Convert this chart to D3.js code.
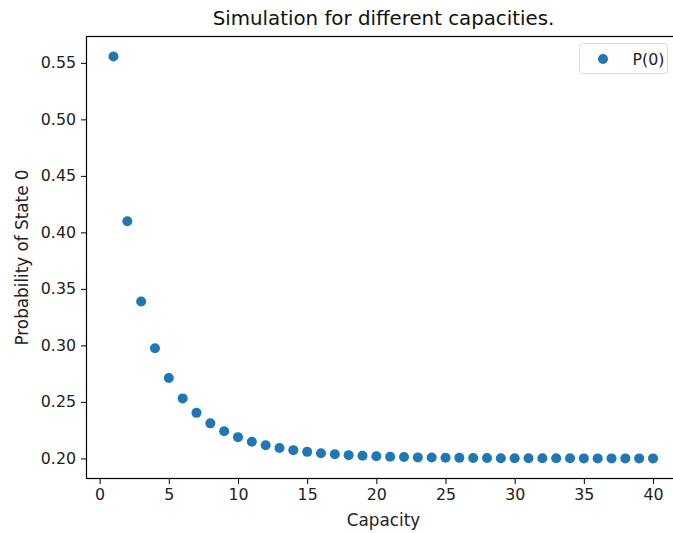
<!DOCTYPE html>
<html>
<head>
<meta charset="utf-8">
<script src="https://cdn.jsdelivr.net/npm/d3@7"></script>
<style>
  body { margin: 0; background: #fff; }
  svg { display: block; font-family: "DejaVu Sans", sans-serif; }
</style>
</head>
<body>
<div id="chart"></div>
<script>
// capacities and P(0)
const capacities = d3.range(1, 41);
const probState0 = [
  0.5556, 0.4098, 0.3388, 0.2975, 0.2711, 0.2531, 0.2403, 0.2310, 0.2241, 0.2188,
  0.2148, 0.2116, 0.2092, 0.2073, 0.2058, 0.2046, 0.2037, 0.2029, 0.2023, 0.2019,
  0.2015, 0.2012, 0.2009, 0.2008, 0.2006, 0.2005, 0.2004, 0.2003, 0.2002, 0.2002,
  0.2001, 0.2001, 0.2001, 0.2001, 0.2000, 0.2000, 0.2000, 0.2000, 0.2000, 0.2000
];
const xTicks = [0, 5, 10, 15, 20, 25, 30, 35, 40];
const yTicks = [0.20, 0.25, 0.30, 0.35, 0.40, 0.45, 0.50, 0.55];

const W = 673, H = 533;
const margin = {top: 36.5, right: -7, bottom: 54.5, left: 86.5};
const width = W - margin.left - margin.right,
      height = H - margin.top - margin.bottom;

const svg = d3.select("#chart")
    .append("svg")
    .attr("width", W)
    .attr("height", H);

const g = svg.append("g")
    .attr("transform", "translate(" + margin.left + "," + margin.top + ")");

const x = d3.scaleLinear()
    .domain([-0.95, 41.95])
    .range([0, width]);

const y = d3.scaleLinear()
    .domain([0.18222, 0.57333])
    .range([height, 0]);

// X axis
const xAxis = g.append("g")
    .attr("transform", "translate(0," + height + ")")
    .call(d3.axisBottom(x).tickValues(xTicks).tickFormat(d3.format("d")).tickSize(5.5).tickPadding(5));

// Y axis
const yAxis = g.append("g")
    .call(d3.axisLeft(y).tickValues(yTicks).tickFormat(d3.format(".2f")).tickSize(5.5).tickPadding(5));

[xAxis, yAxis].forEach(a => {
  a.select(".domain").remove();
  a.selectAll("line").attr("stroke", "#000").attr("stroke-width", 1);
  a.selectAll("text").attr("fill", "#222").style("font-size", "15.8px").style("font-family", "DejaVu Sans");
});

// spines (right one falls outside the window)
g.append("rect")
    .attr("x", 0).attr("y", 0)
    .attr("width", width).attr("height", height)
    .attr("fill", "none")
    .attr("stroke", "#000")
    .attr("stroke-width", 1.2);

// points
g.append("g")
    .selectAll("circle")
    .data(capacities)
    .enter()
    .append("circle")
    .attr("cx", (d, i) => x(d))
    .attr("cy", (d, i) => y(probState0[i]))
    .attr("r", 5)
    .style("fill", "#1f77b4");

// title and labels
svg.append("text")
    .attr("x", margin.left + 297)
    .attr("y", 25)
    .attr("text-anchor", "middle")
    .style("font-size", "19.8px")
    .attr("fill", "#111")
    .text("Simulation for different capacities.");

svg.append("text")
    .attr("x", margin.left + 297)
    .attr("y", 526)
    .attr("text-anchor", "middle")
    .style("font-size", "16.8px")
    .attr("fill", "#222")
    .text("Capacity");

svg.append("text")
    .attr("transform", "translate(28," + (margin.top + height / 2) + ") rotate(-90)")
    .attr("text-anchor", "middle")
    .style("font-size", "16.8px")
    .attr("fill", "#222")
    .text("Probability of State 0");

// legend
const legend = svg.append("g").attr("transform", "translate(579.5,43.5)");
legend.append("rect")
    .attr("width", 88).attr("height", 30)
    .attr("rx", 3)
    .attr("fill", "#fff")
    .attr("stroke", "#d9d9d9");
legend.append("circle")
    .attr("cx", 23.5).attr("cy", 15.5).attr("r", 5)
    .style("fill", "#1f77b4");
legend.append("text")
    .attr("x", 53).attr("y", 21)
    .style("font-size", "15.8px")
    .attr("fill", "#222")
    .text("P(0)");
</script>
</body>
</html>
